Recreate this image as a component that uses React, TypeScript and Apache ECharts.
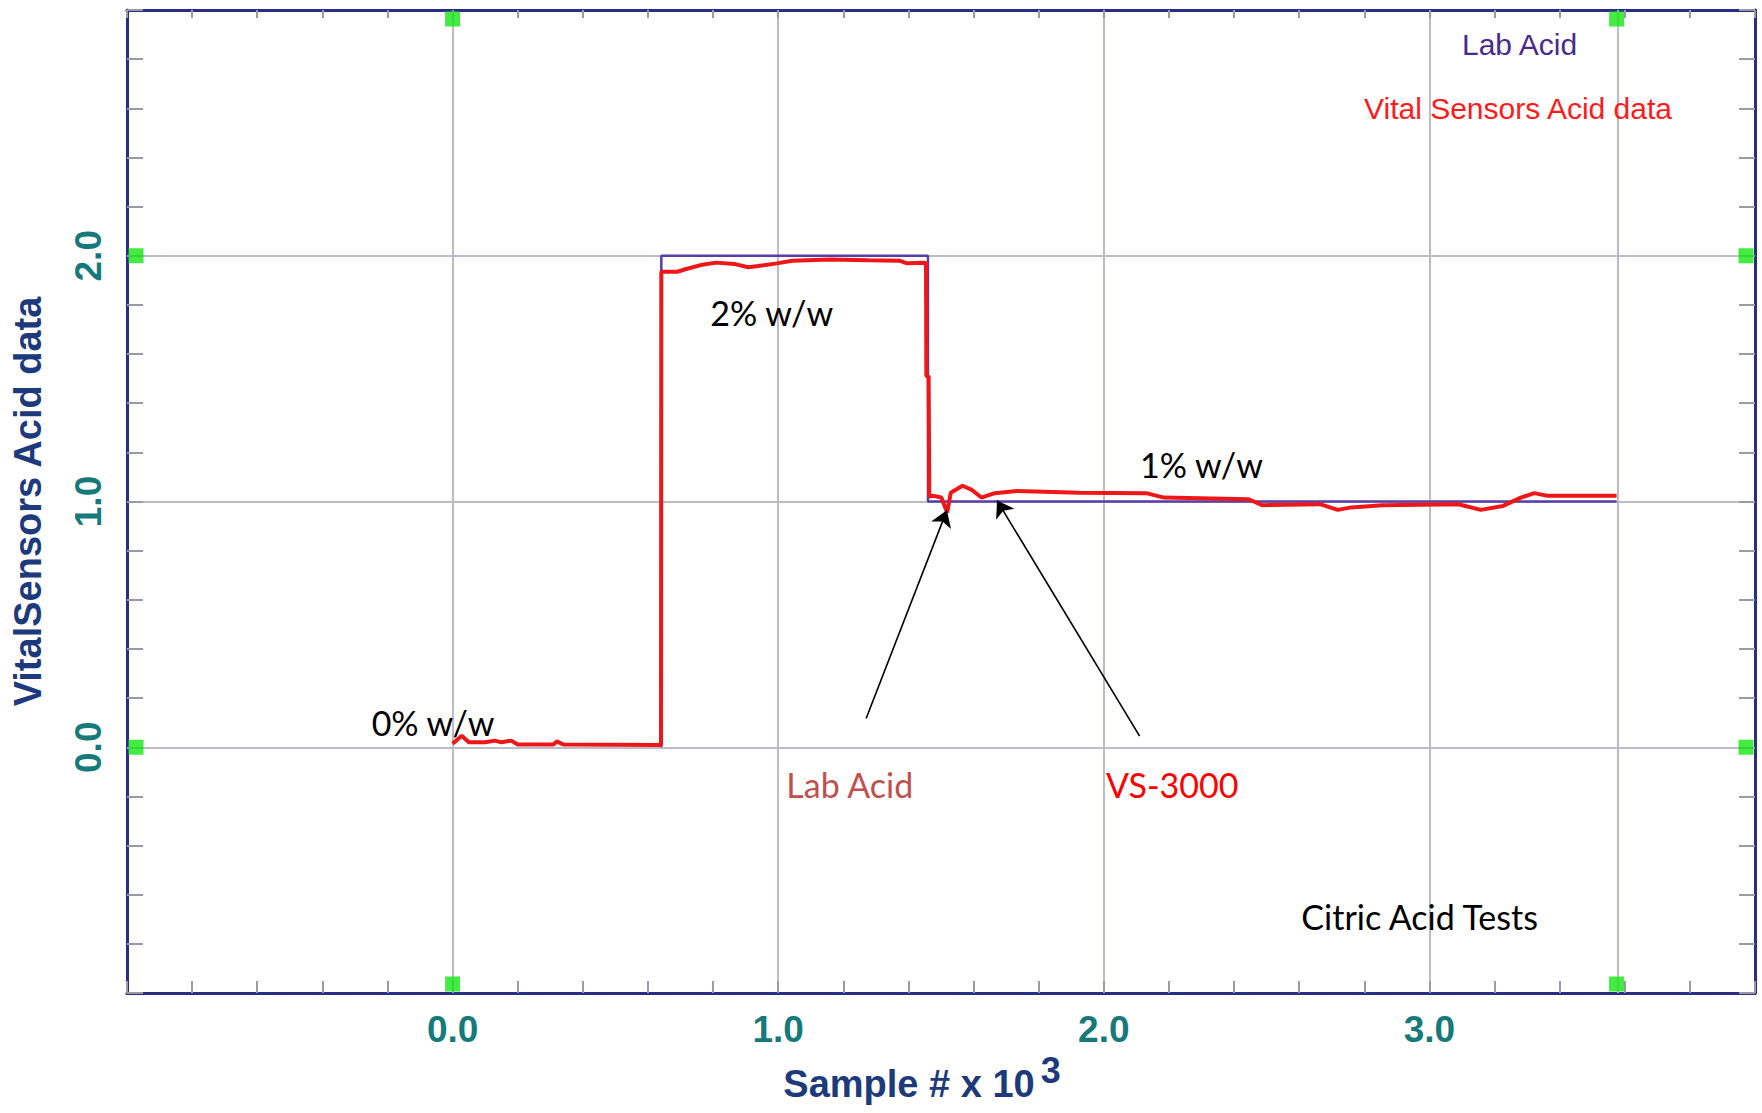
import React, { useEffect, useRef } from "react";
import * as echarts from "echarts";

// ---- data (x in thousands of samples, y in % w/w) ----
const labX = [0.641, 0.641, 1.46, 1.46, 3.575];
const labY = [0, 2.0, 2.0, 1.0, 1.0];

const vsX = [
  0.0, 0.028, 0.05, 0.1, 0.13, 0.15, 0.18, 0.2, 0.31, 0.32, 0.34, 0.64,
  0.641, 0.69, 0.715, 0.762, 0.809, 0.867, 0.908, 0.938, 0.996, 1.043, 1.16,
  1.278, 1.372, 1.396, 1.448, 1.454, 1.455, 1.462, 1.464, 1.478, 1.501, 1.519,
  1.53, 1.566, 1.595, 1.624, 1.665, 1.733, 1.925, 2.13, 2.185, 2.445, 2.486,
  2.664, 2.719, 2.76, 2.856, 3.089, 3.158, 3.226, 3.281, 3.322, 3.363, 3.575,
];
const vsY = [
  0.014, 0.047, 0.02, 0.02, 0.027, 0.02, 0.027, 0.011, 0.011, 0.024, 0.011,
  0.009, 1.935, 1.935, 1.945, 1.962, 1.972, 1.966, 1.953, 1.958, 1.969, 1.98,
  1.985, 1.982, 1.98, 1.969, 1.972, 1.97, 1.51, 1.51, 1.02, 1.023, 1.016, 0.955,
  1.036, 1.064, 1.047, 1.016, 1.034, 1.043, 1.036, 1.034, 1.016, 1.009, 0.985,
  0.989, 0.966, 0.976, 0.985, 0.989, 0.966, 0.982, 1.016, 1.034, 1.023, 1.023,
];

const xTickLabels = ["0.0", "1.0", "2.0", "3.0"];
const yTickLabels = ["0.0", "1.0", "2.0"];

const cursorX = [0, 3.575];
const cursorY = [0, 2];
const dataEndX = 3.575;

const annotTexts = ["0% w/w", "2% w/w", "1% w/w", "Lab Acid", "VS-3000", "Citric Acid Tests"];
const annotX = [-0.06, 0.98, 2.3, 1.22, 2.21, 2.97];
const annotY = [0.1, 1.77, 1.15, -0.15, -0.15, -0.69];
const annotColors = ["#000000", "#000000", "#000000", "#c0504d", "#ff0000", "#000000"];

const arrowFrom = [
  [1.27, 0.117],
  [2.11, 0.045],
];
const arrowTo = [
  [1.518, 0.964],
  [1.672, 1.004],
];

const AX_FONT = "'Liberation Sans', Arial, sans-serif";
const NOTE_FONT = "Lato, 'Open Sans', sans-serif";
const FRAME = "#2a2d85";
const GRIDC = "#bcbcc8";
const TICKC = "#9a9aa6";

export default function App() {
  const ref = useRef<HTMLDivElement>(null);
  useEffect(() => {
    if (!ref.current) return;
    const chart = echarts.init(ref.current, null, { renderer: "svg" });

    const fmtX = (v: number) => {
      const i = Math.round(v);
      return Math.abs(v - i) < 1e-6 && i >= 0 && i < xTickLabels.length ? xTickLabels[i] : "";
    };
    const fmtY = (v: number) => {
      const i = Math.round(v);
      return Math.abs(v - i) < 1e-6 && i >= 0 && i < yTickLabels.length ? yTickLabels[i] : "";
    };

    const markerData: any[] = [];
    cursorX.forEach((x) => {
      markerData.push({ value: [x, 3], symbolOffset: [0, 9] });
      markerData.push({ value: [x, -1], symbolOffset: [0, -9] });
    });
    cursorY.forEach((y) => {
      markerData.push({ value: [-1, y], symbolOffset: [9, 0] });
      markerData.push({ value: [4, y], symbolOffset: [-9, 0] });
    });

    const option: any = {
      animation: false,
      backgroundColor: "#ffffff",
      grid: { left: 127, top: 10, width: 1628, height: 983, containLabel: false },
      legend: [
        {
          data: ["Lab Acid"],
          left: 1457,
          top: 29,
          icon: "none",
          itemWidth: 0,
          padding: 0,
          selectedMode: false,
          textStyle: { color: "#4a2a8c", fontSize: 30, fontFamily: AX_FONT },
        },
        {
          data: ["Vital Sensors Acid data"],
          left: 1359,
          top: 93,
          icon: "none",
          itemWidth: 0,
          padding: 0,
          selectedMode: false,
          textStyle: { color: "#ff1a1a", fontSize: 30, fontFamily: AX_FONT },
        },
      ],
      xAxis: [
        {
          type: "value",
          min: -1,
          max: 4,
          interval: 1,
          position: "bottom",
          name: "Sample # x 10{sup|3}",
          nameLocation: "middle",
          nameGap: 82,
          nameTextStyle: {
            color: "#1d3a7c",
            fontSize: 38,
            fontWeight: "bold",
            fontFamily: AX_FONT,
            padding: [0, 38, 0, 0],
            verticalAlign: "bottom",
            rich: {
              sup: {
                color: "#1d3a7c",
                fontSize: 36,
                fontWeight: "bold",
                fontFamily: AX_FONT,
                verticalAlign: "bottom",
                padding: [0, 0, 26, 6],
              },
            },
          },
          axisLine: { show: true, onZero: false, lineStyle: { color: FRAME, width: 3 } },
          axisTick: { show: true, inside: true, length: 12, lineStyle: { color: TICKC, width: 2 } },
          minorTick: { show: true, splitNumber: 5, length: 12, lineStyle: { color: TICKC, width: 2 } },
          splitLine: { show: true, lineStyle: { color: GRIDC, width: 2 } },
          axisLabel: {
            formatter: fmtX,
            margin: 18,
            color: "#167a7a",
            fontSize: 37,
            fontWeight: "bold",
            fontFamily: AX_FONT,
            showMinLabel: true,
            showMaxLabel: true,
          },
        },
        {
          type: "value",
          min: -1,
          max: 4,
          interval: 1,
          position: "top",
          axisLine: { show: true, onZero: false, lineStyle: { color: FRAME, width: 3 } },
          axisTick: { show: true, inside: true, length: 8, lineStyle: { color: TICKC, width: 2 } },
          minorTick: { show: true, splitNumber: 5, length: 8, lineStyle: { color: TICKC, width: 2 } },
          splitLine: { show: false },
          axisLabel: { show: false },
        },
      ],
      yAxis: [
        {
          type: "value",
          min: -1,
          max: 3,
          interval: 1,
          position: "left",
          name: "VitalSensors Acid data",
          nameLocation: "middle",
          nameGap: 80,
          nameTextStyle: {
            color: "#1d3a7c",
            fontSize: 38,
            fontWeight: "bold",
            fontFamily: AX_FONT,
          },
          axisLine: { show: true, onZero: false, lineStyle: { color: FRAME, width: 3 } },
          axisTick: { show: true, inside: true, length: 16, lineStyle: { color: TICKC, width: 2 } },
          minorTick: { show: true, splitNumber: 5, length: 16, lineStyle: { color: TICKC, width: 2 } },
          splitLine: { show: true, lineStyle: { color: GRIDC, width: 2 } },
          axisLabel: {
            formatter: fmtY,
            rotate: 90,
            margin: 20,
            color: "#167a7a",
            fontSize: 37,
            fontWeight: "bold",
            fontFamily: AX_FONT,
            showMinLabel: true,
            showMaxLabel: true,
          },
        },
        {
          type: "value",
          min: -1,
          max: 3,
          interval: 1,
          position: "right",
          axisLine: { show: true, onZero: false, lineStyle: { color: FRAME, width: 3 } },
          axisTick: { show: true, inside: true, length: 16, lineStyle: { color: TICKC, width: 2 } },
          minorTick: { show: true, splitNumber: 5, length: 16, lineStyle: { color: TICKC, width: 2 } },
          splitLine: { show: false },
          axisLabel: { show: false },
        },
      ],
      series: [
        {
          name: "Lab Acid",
          type: "line",
          xAxisIndex: 0,
          yAxisIndex: 0,
          data: labX.map((x, i) => [x, labY[i]]),
          showSymbol: false,
          lineStyle: { color: "#5a3ea6", width: 2.5 },
          itemStyle: { color: "#4a2a8c" },
          z: 3,
          silent: true,
          markLine: {
            silent: true,
            symbol: ["none", "none"],
            label: { show: false },
            lineStyle: { color: GRIDC, width: 2, type: "solid" },
            data: [{ xAxis: dataEndX }],
            z: 1,
          },
          markPoint: {
            silent: true,
            symbol: "circle",
            symbolSize: 1,
            itemStyle: { color: "rgba(0,0,0,0)" },
            data: annotTexts.map((t, i) => ({
              coord: [annotX[i], annotY[i]],
              value: t,
              label: {
                show: true,
                position: "inside",
                formatter: t,
                color: annotColors[i],
                fontSize: 34,
                fontFamily: NOTE_FONT,
              },
            })),
          },
        },
        {
          name: "Vital Sensors Acid data",
          type: "line",
          xAxisIndex: 0,
          yAxisIndex: 0,
          data: vsX.map((x, i) => [x, vsY[i]]),
          showSymbol: false,
          lineStyle: { color: "#ee1616", width: 4 },
          itemStyle: { color: "#ff1a1a" },
          z: 4,
          silent: true,
          markLine: {
            silent: true,
            symbol: ["none", "arrow"],
            symbolSize: 16,
            label: { show: false },
            lineStyle: { color: "#000000", width: 1.6, type: "solid" },
            data: arrowFrom.map((f, i) => [{ coord: f }, { coord: arrowTo[i] }]),
          },
        },
        {
          name: "cursors",
          type: "scatter",
          xAxisIndex: 0,
          yAxisIndex: 0,
          symbol: "rect",
          symbolSize: 15,
          clip: false,
          silent: true,
          itemStyle: { color: "#14e614" },
          data: markerData,
          z: 6,
        },
      ],
    };

    chart.setOption(option);
    return () => chart.dispose();
  }, []);

  return (
    <div
      ref={ref}
      style={{ position: "absolute", left: 0, top: 0, width: 1762, height: 1113, background: "#fff" }}
    />
  );
}
